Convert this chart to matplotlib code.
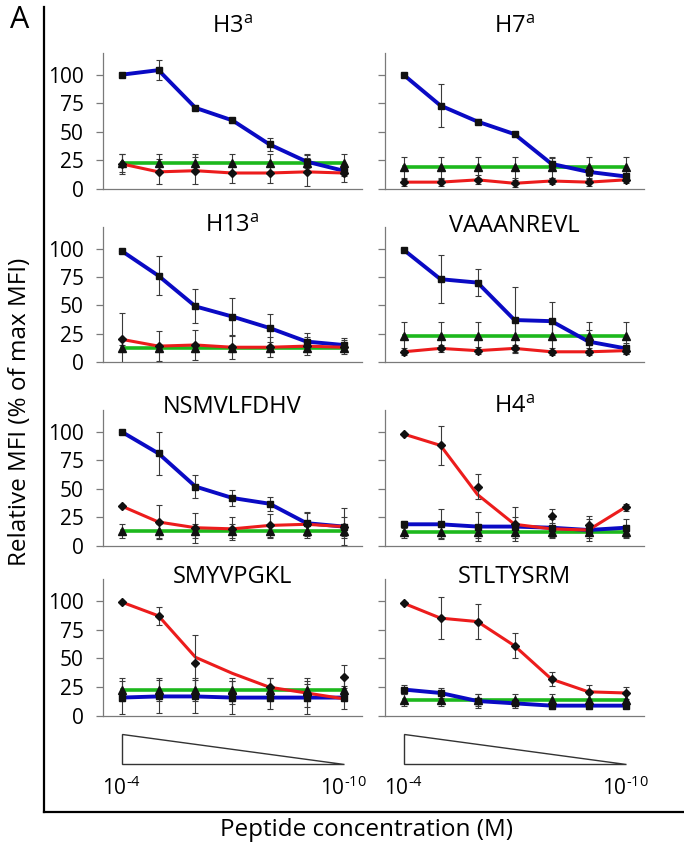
import numpy as np
import matplotlib
matplotlib.use('Agg')
import matplotlib.pyplot as plt
from matplotlib.lines import Line2D

plt.rcParams['font.family'] = ['Open Sans', 'DejaVu Sans']
plt.rcParams['mathtext.fontset'] = 'custom'
plt.rcParams['mathtext.rm'] = 'Open Sans'
plt.rcParams['mathtext.default'] = 'regular'

# peptide concentration, -log10(M): 10^-4 ... 10^-10
neg_log_conc = [4, 5, 6, 7, 8, 9, 10]

titles = ['H3$^{a}$', 'H7$^{a}$', 'H13$^{a}$', 'VAAANREVL',
          'NSMVLFDHV', 'H4$^{a}$', 'SMYVPGKL', 'STLTYSRM']

# blue series (squares)
blue = [
    [100, 104, 71, 60, 39, 24, 16],
    [100, 73, 59, 48, 22, 15, 11],
    [98, 76, 49, 40, 30, 18, 15],
    [99, 73, 70, 37, 36, 18, 12],
    [100, 81, 52, 42, 37, 20, 17],
    [19, 19, 17, 17, 16, 14, 16],
    [16, 17, 17, 16, 16, 16, 16],
    [23, 20, 13, 11, 9, 9, 9],
]
blue_err = [
    [1, 9, 2, 2, 6, 6, 5],
    [1, 19, 2, 2, 5, 4, 3],
    [1, 17, 15, 16, 12, 8, 6],
    [1, 21, 12, 29, 17, 10, 5],
    [1, 19, 10, 7, 6, 10, 16],
    [3, 13, 13, 8, 8, 10, 8],
    [14, 14, 14, 14, 10, 14, 10],
    [4, 4, 6, 4, 3, 3, 2],
]

# red series: connecting line and plotted means (diamonds)
red_line = [
    [22, 15, 16, 14, 14, 15, 14],
    [6, 6, 8, 5, 7, 6, 8],
    [20, 14, 15, 13, 13, 14, 13],
    [9, 12, 10, 12, 9, 9, 10],
    [35, 21, 16, 15, 18, 19, 17],
    [98, 88, 45, 19, 15, 14, 34],
    [99, 87, 51, 37, 25, 20, 15],
    [98, 85, 82, 61, 32, 21, 20],
]
red_pts = [
    [22, 15, 16, 14, 14, 15, 14],
    [6, 6, 8, 5, 7, 6, 8],
    [20, 14, 15, 13, 13, 14, 13],
    [9, 12, 10, 12, 9, 9, 10],
    [35, 21, 16, 15, 18, 19, 17],
    [98, 88, 52, 19, 26, 18, 34],
    [99, 87, 46, 20, 25, 18, 34],
    [98, 85, 82, 61, 32, 21, 20],
]
red_err = [
    [9, 11, 12, 9, 9, 12, 8],
    [3, 3, 4, 3, 3, 3, 3],
    [23, 13, 13, 10, 9, 8, 6],
    [3, 3, 3, 3, 3, 3, 3],
    [1, 15, 13, 10, 10, 10, 8],
    [1, 17, 11, 15, 6, 8, 3],
    [1, 8, 24, 10, 8, 10, 10],
    [1, 18, 15, 11, 6, 6, 5],
]

# green series (triangles)
green = [
    [23, 23, 23, 23, 23, 23, 23],
    [19, 19, 19, 19, 19, 19, 19],
    [12, 12, 12, 12, 12, 12, 12],
    [23, 23, 23, 23, 23, 23, 23],
    [13, 13, 13, 13, 13, 13, 13],
    [12, 12, 12, 12, 12, 12, 12],
    [23, 23, 23, 23, 23, 23, 23],
    [14, 14, 14, 14, 14, 14, 14],
]
green_err = [
    [8, 8, 8, 8, 8, 8, 8],
    [9, 9, 9, 9, 9, 9, 9],
    [3, 3, 3, 3, 3, 3, 3],
    [12, 12, 12, 12, 12, 12, 12],
    [6, 6, 6, 6, 6, 6, 6],
    [5, 5, 5, 5, 5, 5, 5],
    [10, 10, 10, 10, 10, 10, 10],
    [5, 5, 5, 5, 5, 5, 5],
]

yticks = [0, 25, 50, 75, 100]
wedge_labels = ['10$^{\\text{-4}}$', '10$^{\\text{-10}}$']

BLUE = '#0a0ac4'
RED = '#ec1c1c'
GREEN = '#1cb81c'

W, H = 684, 855
fig = plt.figure(figsize=(W / 100, H / 100), dpi=100)


def box(x0, x1, top, bottom):
    return [x0 / W, 1 - bottom / H, (x1 - x0) / W, (bottom - top) / H]


col_x = [(103, 362), (385, 644)]
row_y = [(53, 189), (227, 362), (410, 546), (579, 716)]
title_y = [27, 226, 407, 577]

for i in range(8):
    r, c = divmod(i, 2)
    ax = fig.add_axes(box(*col_x[c], *row_y[r]))
    x = neg_log_conc

    ax.plot(x, green[i], color=GREEN, lw=2.6, zorder=2)
    ax.plot(x, blue[i], color=BLUE, lw=2.8, zorder=2)
    ax.plot(x, red_line[i], color=RED, lw=2.2, zorder=2)

    for pts, err in [(green[i], green_err[i]), (blue[i], blue_err[i]), (red_pts[i], red_err[i])]:
        ax.errorbar(x, pts, yerr=err, fmt='none', ecolor='#3a3a3a',
                    elinewidth=0.8, capsize=2, capthick=0.8, zorder=3)

    ax.plot(x, green[i], ls='none', marker='^', ms=5.5, color='#111111', zorder=4)
    ax.plot(x, blue[i], ls='none', marker='s', ms=4.5, color='#111111', zorder=4)
    ax.plot(x, red_pts[i], ls='none', marker='D', ms=4, color='#111111', zorder=4)

    ax.set_xlim(3.5, 10.5)
    ax.set_ylim(0, 119)
    ax.set_yticks(yticks)
    if c == 0:
        ax.set_yticklabels([str(t) for t in yticks], fontsize=15)
    else:
        ax.set_yticklabels([])
    ax.set_xticks([])
    for side in ['top', 'right']:
        ax.spines[side].set_visible(False)
    for side in ['left', 'bottom']:
        ax.spines[side].set_color('#7a7a7a')
        ax.spines[side].set_linewidth(0.9)
    ax.tick_params(axis='y', length=5, width=0.9, color='#7a7a7a', pad=9)

    xc = (col_x[c][0] + col_x[c][1]) / 2
    fig.text(xc / W, 1 - title_y[r] / H, titles[i], fontsize=17,
             ha='center', va='center')

# decreasing concentration wedge under each column
for c in range(2):
    tax = fig.add_axes(box(*col_x[c], 734, 764))
    tax.set_xlim(3.5, 10.5)
    tax.set_ylim(0, 1)
    tax.axis('off')
    tax.fill([neg_log_conc[0], neg_log_conc[0], neg_log_conc[-1]], [1, 0, 0],
             facecolor='white', edgecolor='#333333', lw=1, clip_on=False)
    tax.text(neg_log_conc[0], -0.8, wedge_labels[0], fontsize=15, ha='center', va='center')
    tax.text(neg_log_conc[-1], -0.8, wedge_labels[1], fontsize=15, ha='center', va='center')

# L-shaped frame
fig.add_artist(Line2D([44 / W, 44 / W], [1 - 7 / H, 1 - 812 / H], color='black', lw=1.6))
fig.add_artist(Line2D([44 / W, 1.0], [1 - 812 / H, 1 - 812 / H], color='black', lw=1.6))

fig.text(20 / W, 1 - 20 / H, 'A', fontsize=22, ha='center', va='center')
fig.text(20 / W, 1 - 412 / H, 'Relative MFI (% of max MFI)', fontsize=17.5,
         rotation=90, ha='center', va='center')
fig.text(366 / W, 1 - 830 / H, 'Peptide concentration (M)', fontsize=17.5,
         ha='center', va='center')

fig.savefig('out.png', dpi=100, facecolor='white')
